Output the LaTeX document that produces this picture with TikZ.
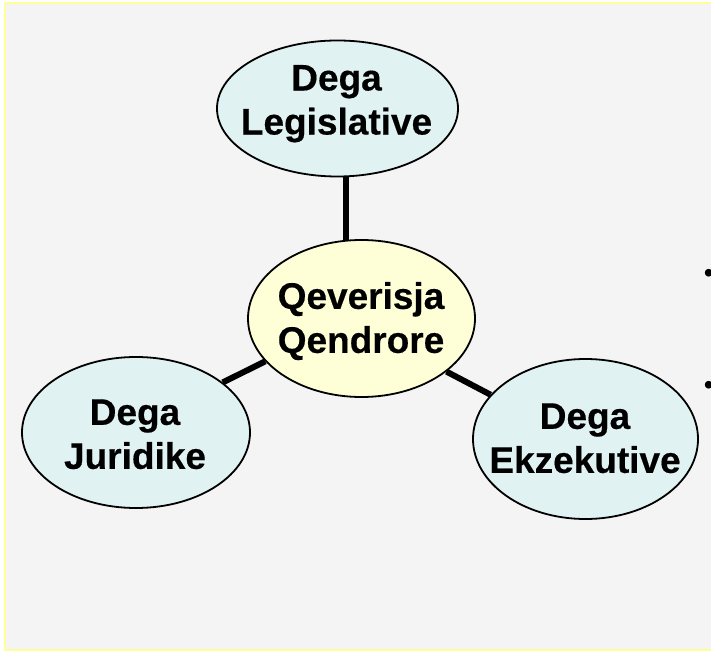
\documentclass[tikz,border=0pt]{standalone}
\usepackage{fontspec}
\setmainfont{Liberation Sans}[BoldFeatures={FakeBold=0.4}]
\usetikzlibrary{shapes.geometric}
\definecolor{bg}{HTML}{F4F4F4}
\definecolor{framecol}{HTML}{FFFF99}
\definecolor{cyanfill}{HTML}{E1F2F2}
\definecolor{yellowfill}{HTML}{FFFFD7}
\begin{document}
\begin{tikzpicture}[x=1pt,y=1pt,
  ell/.style={ellipse, draw=black, line width=1.8pt, inner sep=0pt},
  branch/.style={ell, fill=cyanfill},
  hub/.style={ell, fill=yellowfill},
  lbl/.style={font=\bfseries\fontsize{37}{44}\selectfont, align=center, inner sep=0pt},
  link/.style={line width=6pt},
  bul/.style={font=\fontsize{28}{28}\selectfont, inner sep=0pt, anchor=base west}]
\useasboundingbox (0,0) rectangle (711,651);
\fill[white] (0,0) rectangle (711,651);
\fill[bg] (5,1) rectangle (711,648);
\draw[framecol, line width=2pt] (715,1) -- (5,1) -- (5,648) -- (715,648);
% ellipses
\node[branch, minimum width=241pt, minimum height=136pt] (leg) at (337.5,542.5) {};
\node[hub, minimum width=227pt, minimum height=157pt] (cen) at (361.5,332.5) {};
\node[branch, minimum width=228pt, minimum height=151pt] (jur) at (136,218.5) {};
\node[branch, minimum width=225pt, minimum height=160pt] (ekz) at (585.5,212) {};
% labels
\node[lbl] (legt) at (336.5,547.3) {Dega\\Legislative};
\node[lbl] (cent) at (361,329.9) {Qeverisja\\Qendrore};
\node[lbl] (jurt) at (135,216.7) {Dega\\Juridike};
\node[lbl] (ekzt) at (585,212.7) {Dega\\Ekzekutive};
% connectors
\draw[link] ([xshift=-16pt,yshift=-0.8pt]cen.north) -- ([xshift=-16pt]cen.north |- leg.south);
\draw[link] (cen.204.6) -- (jur.30);
\draw[link] (cen.328.3) -- (ekz.155.3);
% bullets
\node[bul] (b1) at (703.6,368.1) {•};
\node[bul] (b2) at (703.6,256.1) {•};
\end{tikzpicture}
\end{document}
